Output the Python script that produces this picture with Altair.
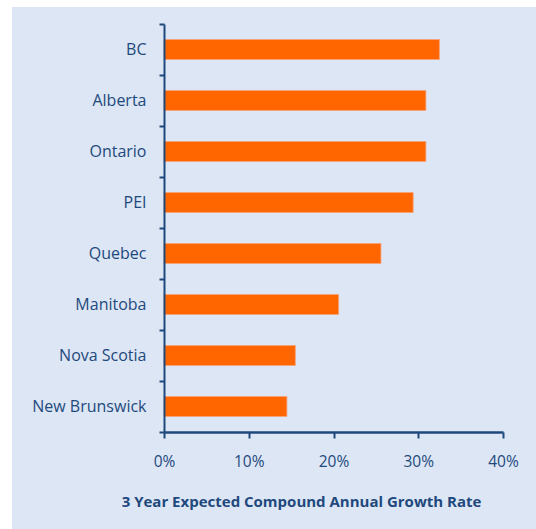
import altair as alt
import pandas as pd

provinces = ["BC", "Alberta", "Ontario", "PEI", "Quebec", "Manitoba", "Nova Scotia", "New Brunswick"]
growth = [0.325, 0.309, 0.309, 0.294, 0.256, 0.206, 0.155, 0.145]
x_ticks = [0, 0.1, 0.2, 0.3, 0.4]
x_title = "3 Year Expected Compound Annual Growth Rate"

df = pd.DataFrame({"province": provinces, "growth": growth})

BLUE_BG = "#dce6f4"
AXIS = "#1f497d"
FONT = "Open Sans"
W, H = 339, 408

panel = alt.Chart(alt.Data(values=[{}])).mark_rect(color=BLUE_BG).encode(
    x=alt.value(-152), x2=alt.value(W + 33), y=alt.value(-17), y2=alt.value(H + 97)
)

bars = alt.Chart(df).mark_bar(size=20, color="#ff6600", stroke="#f7a27a", strokeWidth=0.8).encode(
    x=alt.X(
        "growth:Q",
        scale=alt.Scale(domain=[0, 0.4], nice=False),
        axis=alt.Axis(
            values=x_ticks, format="%", title=x_title, grid=False, zindex=2, labelFlush=False,
            domainColor=AXIS, domainWidth=2.5, tickColor=AXIS, tickWidth=2, tickSize=6,
            labelColor=AXIS, labelFont=FONT, labelFontSize=15.5, labelPadding=16,
            titleColor=AXIS, titleFont=FONT, titleFontSize=15, titleFontWeight="bold",
            titleX=137, titleY=62, titleAnchor="middle",
        ),
    ),
    y=alt.Y(
        "province:N",
        sort=provinces,
        scale=alt.Scale(paddingInner=0, paddingOuter=0),
        axis=alt.Axis(
            title=None, tickBand="extent", grid=False, zindex=2,
            domainColor=AXIS, domainWidth=2, tickColor=AXIS, tickWidth=2, tickSize=5,
            labelColor=AXIS, labelFont=FONT, labelFontSize=16, labelPadding=13,
        ),
    ),
)

chart = alt.layer(panel, bars).properties(
    width=W, height=H,
    background="white",
    padding={"left": 164, "top": 24, "right": 33, "bottom": 97},
    autosize=alt.AutoSizeParams(type="none"),
).configure_view(stroke=None)

chart.save("out.html", embed_options={"renderer": "svg", "actions": False})
